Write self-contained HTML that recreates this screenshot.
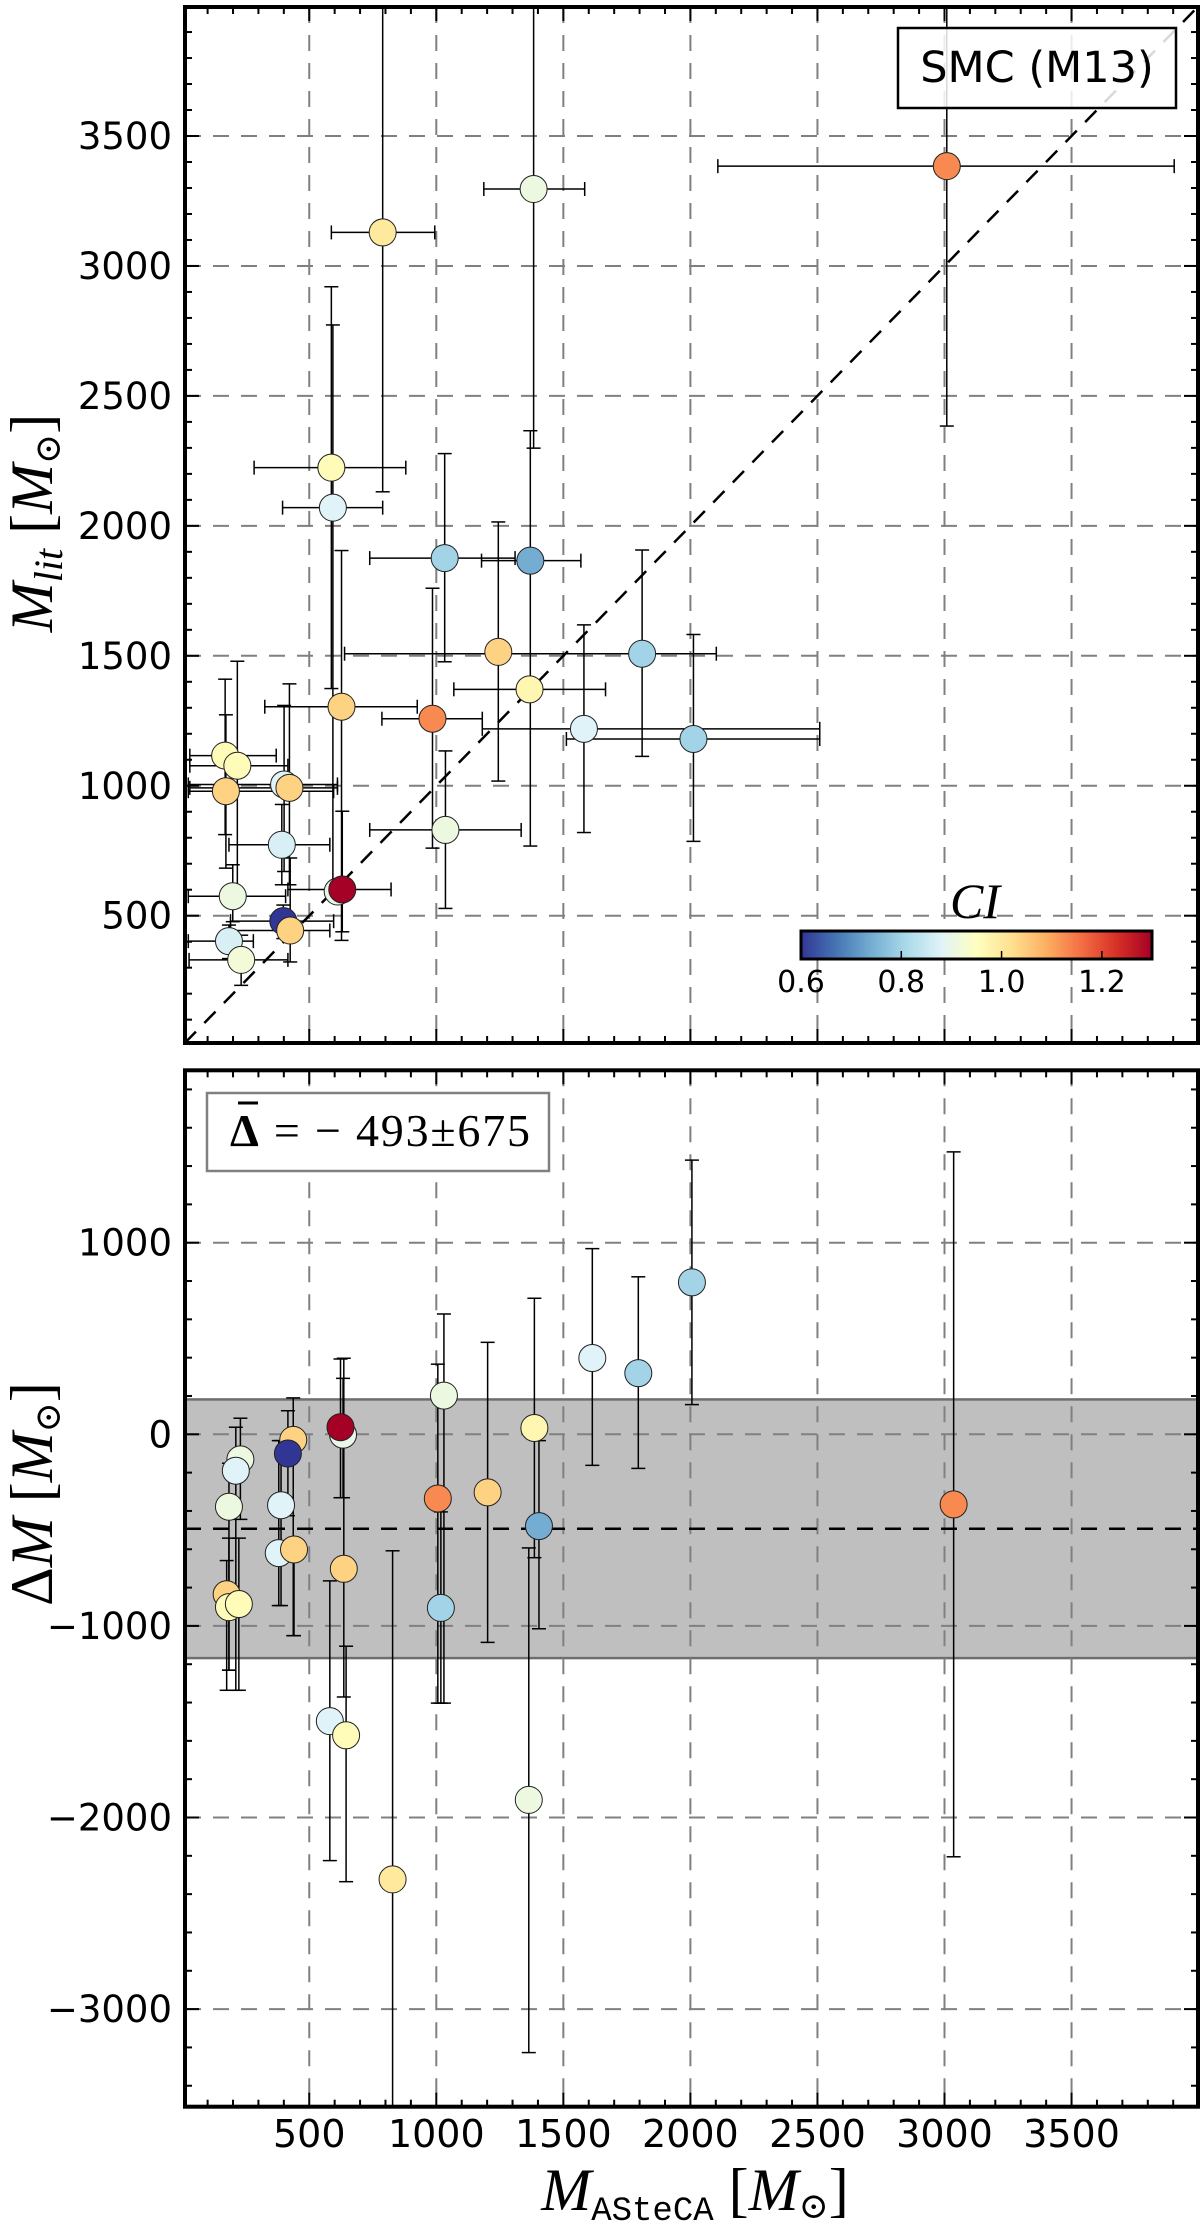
<!DOCTYPE html>
<html><head><meta charset="utf-8"><title>SMC (M13) mass comparison</title>
<style>
html,body{margin:0;padding:0;background:#fff;}
svg{display:block;}
text{font-family:"DejaVu Sans","Liberation Sans",sans-serif;}
.serif{font-family:"Liberation Serif","DejaVu Serif",serif;}
</style></head>
<body>
<svg id="fig" width="1200" height="2227" viewBox="0 0 1200 2227" xmlns="http://www.w3.org/2000/svg">
<defs>
<clipPath id="clipTop"><rect x="185" y="7" width="1013" height="1036"/></clipPath>
<clipPath id="clipBot"><rect x="185" y="1070" width="1013" height="1037"/></clipPath>
<linearGradient id="cmap" x1="0" x2="1" y1="0" y2="0">
<stop offset="0" stop-color="#313695"/><stop offset="0.1" stop-color="#4575b4"/><stop offset="0.2" stop-color="#74add1"/><stop offset="0.3" stop-color="#abd9e9"/><stop offset="0.4" stop-color="#e0f3f8"/><stop offset="0.5" stop-color="#ffffbf"/><stop offset="0.6" stop-color="#fee090"/><stop offset="0.7" stop-color="#fdae61"/><stop offset="0.8" stop-color="#f46d43"/><stop offset="0.9" stop-color="#d73027"/><stop offset="1" stop-color="#a50026"/>
</linearGradient>
</defs>
<g id="topPanel"></g>
<g id="botPanel"></g>
</svg>
<script>
// ---- data: top panel (M_ASteCA vs M_lit) ----
const topX=[3009,1383,789,587,593,1033,1370,1810,1244,1367,627,985,1581,2012,169,217,401,172,422,1036,392,199,612,630,398,184,425,232];
const topY=[3384,3296,3129,2224,2070,1876,1866,1508,1515,1371,1304,1258,1219,1180,1116,1077,1005,979,992,830,773,575,593,601,479,402,443,330];
const topXLo=[2108,1187,587,283,395,738,1178,639,1244,1069,325,786,1181,1512,30,30,24,24,30,738,184,24,612,416,190,24,190,27];
const topXHi=[3904,1584,994,880,789,1310,1569,2102,1244,1666,925,1181,2509,2509,370,416,611,596,611,1334,581,407,612,822,596,280,581,416];
const topYLo=[2384,2299,2131,1374,606,1477,768,1113,1018,1371,405,760,820,786,812,593,670,683,619,528,619,477,593,438,412,335,322,232];
const topYHi=[4500,4500,4500,2920,2773,2278,2366,1907,2015,1371,1905,1760,1619,1582,1410,1479,1309,1273,1392,1134,928,696,593,902,541,464,722,425];
const topCI=[1.13,0.91,1.0,0.96,0.88,0.80,0.74,0.80,1.04,0.97,1.04,1.13,0.88,0.80,0.96,0.96,0.88,1.04,1.04,0.91,0.87,0.91,0.9,1.3,0.6,0.87,1.04,0.92];
// ---- data: bottom panel (Delta M) ----
const botX=[2006,1614,1795,1030,1386,633,623,437,416,229,211,184,389,1006,1202,1404,380,440,636,175,184,223,1018,581,645,1364,828,3036];
const botD=[793,398,319,202,33,-2,37,-29,-100,-131,-190,-378,-370,-335,-303,-479,-620,-601,-702,-835,-902,-886,-906,-1497,-1571,-1908,-2323,-366];
const botLo=[155,-162,-178,-1403,-644,-331,-331,-1051,-425,-444,-1336,-1231,-894,-1403,-1086,-1015,-894,-1051,-1371,-1336,-1231,-1336,-1403,-2225,-2335,-3227,-3600,-2205];
const botHi=[1431,969,822,628,710,292,393,190,123,84,37,-151,-33,366,480,-33,-33,-542,397,-659,-542,-542,-405,-765,-1106,-593,-608,1474];
const botCI=[0.80,0.88,0.80,0.91,0.97,0.9,1.3,1.04,0.6,0.91,0.88,0.91,0.88,1.13,1.04,0.74,0.88,1.04,1.04,1.04,0.96,0.96,0.80,0.88,0.96,0.91,1.0,1.13];
const meanDelta=-493, stdDelta=675;
const xTicks=[500,1000,1500,2000,2500,3000,3500];
const topYTicks=[500,1000,1500,2000,2500,3000,3500];
const botYTicks=[1000,0,-1000,-2000,-3000];
const ciTicks=[0.6,0.8,1.0,1.2];

const NS="http://www.w3.org/2000/svg";
const L=185,R=1198;
const X=v=>182.2+0.2541*v;
const YT=v=>915.7-0.2599*(v-500);
const YB=v=>1434.3-0.1916*v;
const TT=7,TB=1043,BT=1070.3,BB=2106.7;
const stops=["#313695","#4575b4","#74add1","#abd9e9","#e0f3f8","#ffffbf","#fee090","#fdae61","#f46d43","#d73027","#a50026"];
function hex(h){return [1,3,5].map(i=>parseInt(h.substr(i,2),16));}
function cmap(ci){let t=(ci-0.6)/0.7;t=Math.max(0,Math.min(1,t))*10;let i=Math.min(9,Math.floor(t)),f=t-i;
 const a=hex(stops[i]),b=hex(stops[i+1]);return "rgb("+a.map((v,k)=>Math.round(v+(b[k]-v)*f)).join(",")+")";}
function el(tag,attrs,parent){const e=document.createElementNS(NS,tag);for(const k in attrs)e.setAttribute(k,attrs[k]);parent.appendChild(e);return e;}
const topG=document.getElementById('topPanel'),botG=document.getElementById('botPanel');

function grid(g,y0,y1,yTicks,Y){
  xTicks.forEach(v=>{const l=el('line',{x1:X(v),x2:X(v),y1:y0,y2:y1,stroke:'#808080','stroke-width':2,'stroke-dasharray':'16,12'},g);
    
    });
  yTicks.forEach(v=>{const l=el('line',{x1:L,x2:R,y1:Y(v),y2:Y(v),stroke:'#808080','stroke-width':2,'stroke-dasharray':'16,12'},g);
    
    });
}
function frame(g,y0,y1,Y,ymin,ymax,ystep,yMajor){
  for(let v=100;v<4000;v+=100){const maj=v%500===0;const len=maj?14:7;
    el('line',{x1:X(v),x2:X(v),y1:y1,y2:y1-len,stroke:'#000','stroke-width':2},g);
    el('line',{x1:X(v),x2:X(v),y1:y0,y2:y0+len,stroke:'#000','stroke-width':2},g);}
  for(let v=Math.ceil(ymin/ystep)*ystep;v<ymax;v+=ystep){const maj=((v%yMajor)+yMajor)%yMajor===0;const len=maj?14:7;
    el('line',{x1:L,x2:L+len,y1:Y(v),y2:Y(v),stroke:'#000','stroke-width':2},g);
    el('line',{x1:R,x2:R-len,y1:Y(v),y2:Y(v),stroke:'#000','stroke-width':2},g);}
  const f=el('rect',{x:L,y:y0,width:R-L,height:y1-y0,fill:'none',stroke:'#000','stroke-width':4},g);
  
  
}
function errbars(g,xs,ys,xlo,xhi,ylo,yhi,Y){
  for(let i=0;i<xs.length;i++){
    const cx=X(xs[i]),cy=Y(ys[i]);
    if(xlo&&xhi[i]>xlo[i]){el('line',{x1:X(xlo[i]),x2:X(xhi[i]),y1:cy,y2:cy,stroke:'#000','stroke-width':1.5},g);
      [xlo[i],xhi[i]].forEach(v=>el('line',{x1:X(v),x2:X(v),y1:cy-7,y2:cy+7,stroke:'#000','stroke-width':1.5},g));}
    if(yhi[i]>ylo[i]){el('line',{x1:cx,x2:cx,y1:Y(ylo[i]),y2:Y(yhi[i]),stroke:'#000','stroke-width':1.5},g);
      [ylo[i],yhi[i]].forEach(v=>el('line',{x1:cx-7,x2:cx+7,y1:Y(v),y2:Y(v),stroke:'#000','stroke-width':1.5},g));}
  }
}
function points(g,xs,ys,cis,Y,name){
  for(let i=0;i<xs.length;i++){
    const c=el('circle',{cx:X(xs[i]),cy:Y(ys[i]),r:13.5,fill:cmap(cis[i]),stroke:'#222','stroke-width':1},g);
    
    
  }
}
// ---------- TOP PANEL ----------
const gt=el('g',{'clip-path':'url(#clipTop)'},topG);
grid(gt,TT,TB,topYTicks,YT);
const diag=el('line',{x1:X(10),y1:YT(10),x2:X(4000),y2:YT(4000),stroke:'#000','stroke-width':2.5,'stroke-dasharray':'16,12'},gt);


errbars(gt,topX,topY,topXLo,topXHi,topYLo,topYHi,YT);
points(gt,topX,topY,topCI,YT,'cluster-point');
frame(topG,TT,TB,YT,10,4000,100,500);
topYTicks.forEach(v=>{const t=el('text',{x:172,y:YT(v)+13,'text-anchor':'end','font-size':37},topG);t.textContent=v;
  
  });
const sb=el('rect',{x:898,y:28,width:278,height:80,fill:'#fff','fill-opacity':0.85,stroke:'#000','stroke-width':2.5},topG);


const st=el('text',{x:1037,y:82,'text-anchor':'middle','font-size':43},topG);st.textContent='SMC (M13)';


const cb=el('rect',{x:801,y:931,width:351,height:28,fill:'url(#cmap)',stroke:'#000','stroke-width':3},topG);


const CX=v=>801+(v-0.6)/0.7*351;
ciTicks.forEach(v=>{el('line',{x1:CX(v),x2:CX(v),y1:959,y2:951,stroke:'#000','stroke-width':1.5},topG);
  const t=el('text',{x:CX(v),y:992,'text-anchor':'middle','font-size':30},topG);t.textContent=v.toFixed(1);
  
  });
const ci=el('text',{x:975,y:918,'text-anchor':'middle','font-size':50,'font-style':'italic',class:'serif'},topG);ci.textContent='CI';


const yl=el('text',{x:0,y:0,'text-anchor':'middle','font-size':60,class:'serif',transform:'translate(52,523) rotate(-90)'},topG);
yl.innerHTML='<tspan font-style="italic">M</tspan><tspan font-style="italic" font-size="40" dy="10">lit</tspan><tspan dy="-10"> [</tspan><tspan font-style="italic">M</tspan><tspan font-size="36" dy="8">⊙</tspan><tspan dy="-8">]</tspan>';


// ---------- BOTTOM PANEL ----------
const gb=el('g',{'clip-path':'url(#clipBot)'},botG);
const band=el('rect',{x:L,y:YB(meanDelta+stdDelta),width:R-L,height:YB(meanDelta-stdDelta)-YB(meanDelta+stdDelta),fill:'#bfbfbf',stroke:'#6e6e6e','stroke-width':2.5},gb);


grid(gb,BT,BB,botYTicks,YB);
const ml=el('line',{x1:L,x2:R,y1:YB(meanDelta),y2:YB(meanDelta),stroke:'#000','stroke-width':2.5,'stroke-dasharray':'16,12'},gb);


errbars(gb,botX,botD,null,null,botLo,botHi,YB);
points(gb,botX,botD,botCI,YB,'delta-point');
frame(botG,BT,BB,YB,-3500,1900,200,1000);
botYTicks.forEach(v=>{const t=el('text',{x:172,y:YB(v)+13,'text-anchor':'end','font-size':37},botG);t.textContent=v<0?'\u2212'+(-v):v;
  
  });
xTicks.forEach(v=>{const t=el('text',{x:X(v),y:2147,'text-anchor':'middle','font-size':38},botG);t.textContent=v;
  
  });
const lb=el('rect',{x:207,y:1093,width:342,height:78,fill:'#fff',stroke:'#808080','stroke-width':2.5},botG);


const lt=el('text',{x:230,y:1146,'font-size':46,class:'serif',textLength:300,lengthAdjust:'spacing'},botG);
lt.innerHTML='<tspan font-weight="bold">Δ</tspan> = − 493±675';


const bar=el('line',{x1:238,x2:258,y1:1103,y2:1103,stroke:'#000','stroke-width':3},botG);


const yl2=el('text',{x:0,y:0,'text-anchor':'middle','font-size':60,class:'serif',transform:'translate(52,1494) rotate(-90)'},botG);
yl2.innerHTML='Δ<tspan font-style="italic">M</tspan> [<tspan font-style="italic">M</tspan><tspan font-size="36" dy="8">⊙</tspan><tspan dy="-8">]</tspan>';


const xl=el('text',{x:695,y:2210,'text-anchor':'middle','font-size':60,class:'serif'},botG);
xl.innerHTML='<tspan font-style="italic">M</tspan><tspan font-family="Liberation Mono, monospace" font-size="34" dy="10">ASteCA</tspan><tspan dy="-10"> [</tspan><tspan font-style="italic">M</tspan><tspan font-size="36" dy="8">⊙</tspan><tspan dy="-8">]</tspan>';


</script>
</body></html>
